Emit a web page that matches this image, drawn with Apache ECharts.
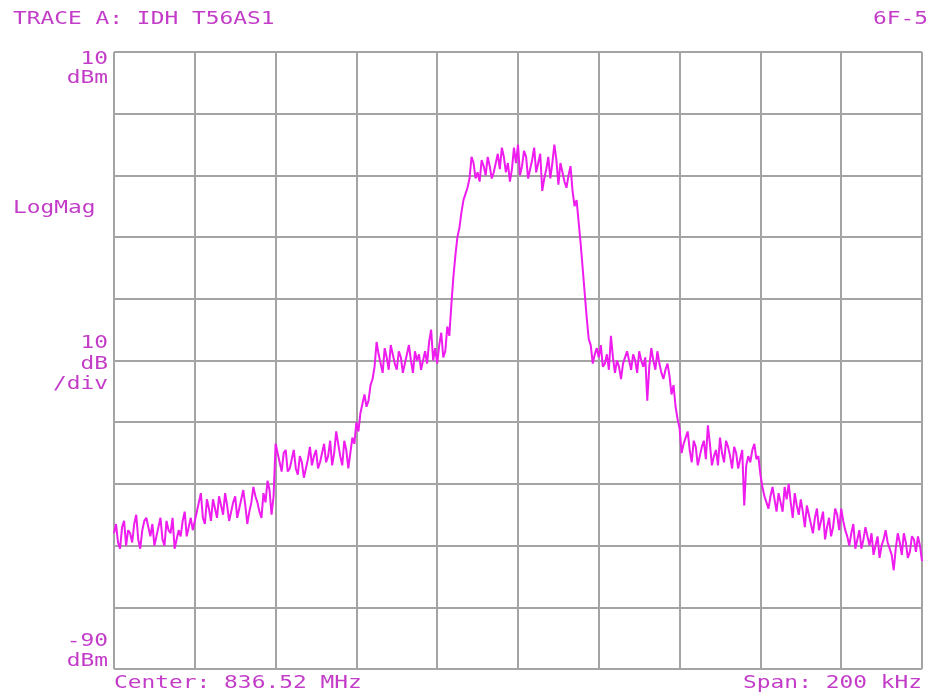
<!DOCTYPE html>
<html>
<head>
<meta charset="utf-8">
<script src="https://cdn.jsdelivr.net/npm/echarts@6/dist/echarts.min.js"></script>
<style>
html,body{margin:0;padding:0;background:#fff;}
#chart{width:934px;height:696px;}
</style>
</head>
<body>
<div id="chart"></div>
<script>
// Trace A: power level (dBm) per sweep point, 401 points across a 200 kHz span
const levelsDbm = [
  -68,-66.5, -69.5,-70.5, -67,-66, -70,-67.5, -68,-69.5, -66.5,-65, -69,-70.5, -67.5,-66, -65.5,-67, -68.5,-66.5,
  -70,-68.5, -67,-65.5, -69,-70, -66,-67.5, -68,-65.5, -70.5,-69, -67.5,-68.5, -66,-64.5, -68.5,-67, -65.5,-67.5,
  -66,-64.5, -63,-61.5, -65.5,-66.5, -62.5,-64, -66,-62.5, -64,-65.5, -62,-63.5, -65,-61.5, -63.5,-66, -64.5,-63,
  -62,-65.5, -64,-62.5, -61,-63.5, -66.5,-64.5, -63,-60.5, -62,-63, -64.5,-65.5, -61.5,-63, -59.5,-61, -65,-62,
  -53.5,-55, -56.5,-58, -55,-54.5, -58,-57.5, -56,-54.5, -57.5,-58.5, -55.5,-56.5, -59,-57.5, -56,-54, -57,-55.5,
  -54.5,-57.5, -56.5,-55, -53.5,-56.5, -55.5,-53, -57,-55, -51.5,-53.5, -55.5,-57, -53,-54.5, -57.5,-55, -52.5,-53.5,
  -50,-51.5, -48.5,-47, -45.5,-47.5, -46.5,-44, -43,-41, -37,-39, -40.5,-42, -38,-39.5, -41.5,-37.5, -39,-40.5,
  -41.5,-38.5, -39.5,-42, -40.5,-39, -37.5,-40, -42,-38.5, -40,-39, -41.5,-40, -38.5,-40.5, -37,-35, -40,-38,
  -40.5,-37.5, -35.5,-39.5, -38.5,-34.5, -36,-31, -26.5,-23, -20,-18.5, -16,-14, -13,-12, -10.5,-7, -8,-10.5,
  -9.5,-11, -7.5,-8.5, -10,-7, -8.5,-10.5, -9.5,-8, -6.5,-9, -5.5,-7, -9.5,-8, -11,-9, -5.5,-8,
  -5,-10, -8.5,-6, -7,-10.5, -9,-7.5, -5.5,-9.5, -8,-6.5, -12.5,-10.5, -9,-7, -10.5,-8, -5,-7.5,
  -11.5,-8, -9.5,-11, -12,-10, -8.5,-12.5, -15,-14, -17.5,-21, -25,-29, -33,-36.5, -37.5,-40.5, -39,-38,
  -39.5,-37.5, -41,-40.5, -39,-41.5, -36,-39.5, -42,-40, -41,-43, -40.5,-39.5, -38.5,-40, -41.5,-39, -40,-42,
  -38.5,-40, -41,-39.5, -46.5,-41, -38,-40, -41.5,-38.5, -40.5,-42, -43,-41.5, -40.5,-42.5, -45.5,-44, -47.5,-49.5,
  -51,-55, -53.5,-52.5, -51.5,-54.5, -56.5,-53, -54,-57, -55.5,-54, -53,-56, -50.5,-53.5, -57,-55.5, -54.5,-57,
  -52.5,-55, -56.5,-53, -54,-55.5, -57.5,-54, -55,-57.5, -56,-54.5, -63.5,-57, -55.5,-56.5, -54.5,-53.5, -56,-55.5,
  -58.5,-60.5, -62,-63, -64,-62, -60.5,-62.5, -64.5,-61.5, -63,-64.5, -60.5,-62.5, -60,-63, -65.5,-61.5, -63.5,-65,
  -62.5,-64.5, -67,-63.5, -65,-66.5, -68,-65.5, -64,-67.5, -66,-64.5, -69,-67, -65.5,-68.5, -67,-64, -65,-67.5,
  -64,-66, -67.5,-68.5, -70,-68, -66.5,-70.5, -69,-67.5, -70.5,-69, -67,-68.5, -70,-68, -71.5,-70, -68.5,-72,
  -70,-69, -67.5,-69.5, -70.5,-71.5, -74,-70.5, -68,-69.5, -71.5,-68, -69.5,-72, -71,-68.5, -69,-71, -68.5,-70,
  -72.5
];
// Y scale (dBm): reference level top, bottom, 10 dB/div
const yTop = 10;
const yBottom = -90;
const yDiv = 10;
const xDivisions = 10;
// Annotation texts
const titleText = 'TRACE A: IDH T56AS1';
const pageText = '6F-5';
const topScaleText = '10\ndBm';
const modeText = 'LogMag';
const divText = '10\ndB\n/div';
const bottomScaleText = '-90\ndBm';
const centerText = 'Center: 836.52 MHz';
const spanText = 'Span: 200 kHz';

const lastIndex = levelsDbm.length - 1;
const seriesData = levelsDbm.map((v, i) => [i, v]);

const txtColor = '#c23cc8';
const font = '"DejaVu Sans Mono", monospace';
function label(x, y, text, align, vAlign, lh) {
  return {
    type: 'text', x: x, y: y, scaleX: 1.27, scaleY: 1,
    style: {
      text: text, fill: txtColor, font: '18px ' + font,
      textAlign: align, textVerticalAlign: vAlign, lineHeight: lh || 20
    }
  };
}

const chart = echarts.init(document.getElementById('chart'), null, {renderer: 'canvas'});
chart.setOption({
  animation: false,
  backgroundColor: '#ffffff',
  grid: {left: 114, right: 12, top: 52, bottom: 27, containLabel: false},
  xAxis: {
    type: 'value', min: 0, max: lastIndex, interval: lastIndex / xDivisions,
    axisLine: {show: false}, axisTick: {show: false}, axisLabel: {show: false},
    splitLine: {show: true, lineStyle: {color: '#a4a4a4', width: 2}}
  },
  yAxis: {
    type: 'value', min: yBottom, max: yTop, interval: yDiv,
    axisLine: {show: false}, axisTick: {show: false}, axisLabel: {show: false},
    splitLine: {show: true, lineStyle: {color: '#a4a4a4', width: 2}}
  },
  series: [{
    type: 'line', data: seriesData, symbol: 'none',
    lineStyle: {color: '#ee1cee', width: 2},
    z: 5
  }],
  graphic: [
    label(13, 19, titleText, 'left', 'middle'),
    label(928, 19, pageText, 'right', 'middle'),
    label(108, 69, topScaleText, 'right', 'middle', 19),
    label(13, 208, modeText, 'left', 'middle'),
    label(108, 364, divText, 'right', 'middle', 20.5),
    label(108, 651, bottomScaleText, 'right', 'middle', 20),
    label(114, 683, centerText, 'left', 'middle'),
    label(922, 683, spanText, 'right', 'middle')
  ]
});
</script>
</body>
</html>
